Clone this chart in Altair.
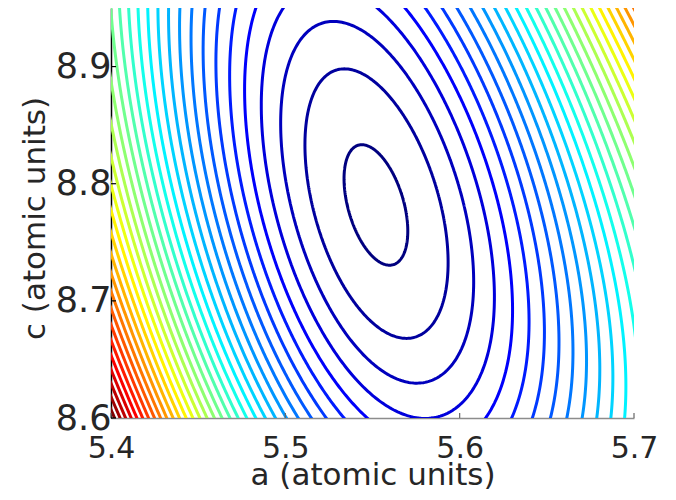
import numpy as np
import pandas as pd
import altair as alt

alt.data_transformers.disable_max_rows()

# ---- contour crossings: (a, c, contour index) ----
mid_c = 8.783
mid_left_a = [5.536, 5.515, 5.503, 5.492, 5.484, 5.477, 5.472, 5.466, 5.460, 5.454,
              5.449, 5.444, 5.438, 5.434, 5.429, 5.424, 5.420, 5.414, 5.410, 5.405, 5.401]
mid_left_k = list(range(1, 22))
mid_right_a = [5.5675, 5.589, 5.602, 5.612, 5.622, 5.631, 5.638, 5.646, 5.652, 5.659,
               5.666, 5.672, 5.678, 5.683, 5.689, 5.694]
mid_right_k = list(range(1, 17))

top_c = 8.95
top_left_a = [5.495, 5.480, 5.469, 5.460, 5.452, 5.445, 5.438, 5.433, 5.427, 5.421,
              5.417, 5.411, 5.407, 5.402]
top_left_k = list(range(4, 18))
top_right_a = [5.551, 5.5675, 5.579, 5.589, 5.597, 5.605, 5.612, 5.619, 5.625, 5.631,
               5.636, 5.642, 5.648, 5.654, 5.659, 5.665, 5.671, 5.676, 5.682, 5.687,
               5.692, 5.697]
top_right_k = list(range(4, 26))

bottom_c = 8.6
bottom_a = [5.543, 5.556, 5.621, 5.636, 5.647, 5.658, 5.665, 5.672, 5.679, 5.685, 5.691, 5.697, 5.400]
bottom_k = [6, 5, 5, 6, 7, 8, 9, 10, 11, 12, 13, 14, 34.3]

ring_a = [5.5446, 5.5641, 5.5354, 5.5744, 5.5314, 5.5767, 5.5256, 5.5864, 5.5847]
ring_c = [8.8331, 8.7332, 8.7946, 8.7707, 8.8988, 8.6709, 8.9381, 8.6341, 8.6017]
ring_k = [1, 1, 1, 1, 2, 2, 3, 3, 4]

N_LEVELS = 34
x_ticks = [5.4, 5.5, 5.6, 5.7]
y_ticks = [8.6, 8.7, 8.8, 8.9]
A_DOMAIN = [5.4, 5.7]
C_DOMAIN = [8.6, 8.95]

# ---- assemble observations ----
obs_a = mid_left_a + mid_right_a + top_left_a + top_right_a + bottom_a + ring_a
obs_c = ([mid_c] * (len(mid_left_a) + len(mid_right_a)) + [top_c] * (len(top_left_a) + len(top_right_a))
         + [bottom_c] * len(bottom_a) + ring_c)
obs_k = mid_left_k + mid_right_k + top_left_k + top_right_k + bottom_k + ring_k
obs_a = np.array(obs_a); obs_c = np.array(obs_c); obs_k = np.array(obs_k, dtype=float)
# inner rings and crossings near the minimum count more in the fit
w = np.where(obs_k <= 2, 5.0, np.where(obs_k <= 4, 2.5, 1.0))


def basis(a, c):
    U = (a - 5.55) / 0.15
    V = (c - 8.775) / 0.175
    return np.stack([np.ones_like(U), U, V, U * U, U * V, V * V,
                     U ** 3, U * U * V, U * V * V, V ** 3, U ** 4], axis=-1)


coef, *_ = np.linalg.lstsq(basis(obs_a, obs_c) * w[:, None], obs_k * w, rcond=None)


def field(a, c):
    return basis(a, c) @ coef


# minimum of the fitted surface
ga, gc = np.meshgrid(np.linspace(5.4, 5.7, 301), np.linspace(8.6, 8.95, 351))
gf = field(ga, gc)
imin = np.unravel_index(np.argmin(gf), gf.shape)
a0, c0 = ga[imin], gc[imin]

# rays from the minimum (pixel-like units)
pa = 523 / 0.3
pc = 410 / 0.35
n_th = 720
th = np.linspace(0, 2 * np.pi, n_th, endpoint=False)
da = np.cos(th) / pa
dc = np.sin(th) / pc
lo_a, hi_a = 5.4 - 0.012, 5.7 + 0.012
lo_c, hi_c = 8.6 - 0.018, 8.95 + 0.018
with np.errstate(divide="ignore", invalid="ignore"):
    ra = np.where(da > 0, (hi_a - a0) / da, np.where(da < 0, (lo_a - a0) / da, np.inf))
    rc = np.where(dc > 0, (hi_c - c0) / dc, np.where(dc < 0, (lo_c - c0) / dc, np.inf))
r_exit = np.minimum(ra, rc)
dr = 0.5
r = np.arange(0, 800, dr)
RA = a0 + da[:, None] * r[None, :]
RC = c0 + dc[:, None] * r[None, :]
F = field(RA, RC)
F = np.where(r[None, :] <= r_exit[:, None], F, -np.inf)

levels = list(range(1, N_LEVELS + 1))


def jet(t):
    rr = np.clip(1.5 - abs(4 * t - 3), 0, 1)
    gg = np.clip(1.5 - abs(4 * t - 2), 0, 1)
    bb = np.clip(1.5 - abs(4 * t - 1), 0, 1)
    return "#%02x%02x%02x" % (int(rr * 255), int(gg * 255), int(bb * 255))


colors = [jet((k - 1) / (N_LEVELS - 1)) for k in levels]

rows = []
for k in levels:
    mask = F >= k
    idx = np.argmax(mask, axis=1)
    valid = mask.any(axis=1) & (idx > 0)
    i1 = np.clip(idx, 1, None)
    f0 = F[np.arange(n_th), i1 - 1]
    f1 = F[np.arange(n_th), i1]
    rk = r[i1 - 1] + (k - f0) / (f1 - f0) * dr
    pts_a = a0 + da * rk
    pts_c = c0 + dc * rk
    if valid.all():
        segs = [list(range(n_th)) + [0]]
    else:
        start = int(np.argmin(valid))
        segs, cur = [], []
        for j in range(n_th):
            ii = (start + j) % n_th
            if valid[ii]:
                cur.append(ii)
            else:
                if cur:
                    segs.append(cur)
                cur = []
        if cur:
            segs.append(cur)
    for s, seg in enumerate(segs):
        for o, ii in enumerate(seg):
            rows.append({"a": round(float(pts_a[ii]), 5), "c": round(float(pts_c[ii]), 5),
                         "k": k, "seg": f"{k}_{s}", "i": o})

df = pd.DataFrame(rows)

lines = alt.Chart(df).mark_line(clip=True, strokeWidth=3).encode(
    x=alt.X("a:Q", scale=alt.Scale(domain=A_DOMAIN, nice=False, zero=False),
            axis=alt.Axis(values=x_ticks, format=".1f", title="a (atomic units)",
                          ticks=False, labelPadding=39, labelBaseline="alphabetic",
                          labelFontSize=30, domainColor="#8c8c8c", domainWidth=1.5,
                          titleFontSize=31, titleBaseline="alphabetic", titleY=66,
                          labelFlush=False, labelOverlap=False)),
    y=alt.Y("c:Q", scale=alt.Scale(domain=C_DOMAIN, nice=False, zero=False),
            axis=alt.Axis(values=y_ticks, format=".1f", title="c (atomic units)",
                          ticks=False, labelPadding=0, labelFontSize=35,
                          domainColor="#000000", domainWidth=1.5,
                          titleFontSize=31, titleBaseline="alphabetic", titleX=-67, titleY=210,
                          labelFlush=False, labelOverlap=False)),
    color=alt.Color("k:O", scale=alt.Scale(domain=levels, range=colors), legend=None),
    detail="seg:N",
    order="i:Q",
)

xt = alt.Chart(pd.DataFrame({"a": x_ticks})).mark_rule(color="#666666", strokeWidth=1.2).encode(
    x="a:Q", y=alt.value(410), y2=alt.value(405))
yt = alt.Chart(pd.DataFrame({"c": y_ticks})).mark_rule(color="#000000", strokeWidth=1.2).encode(
    y="c:Q", x=alt.value(0), x2=alt.value(5))

chart = alt.layer(lines, xt, yt).properties(
    width=523, height=410,
    padding={"left": 111, "top": 8, "right": 42, "bottom": 82},
    autosize=alt.AutoSizeParams(type="none"),
).configure_view(strokeWidth=0).configure_axis(
    labelFont="DejaVu Sans", titleFont="DejaVu Sans", labelColor="#262626",
    titleColor="#262626", grid=False, titleFontWeight="normal",
)

chart.save("out.html", embed_options={"renderer": "svg", "actions": False})
